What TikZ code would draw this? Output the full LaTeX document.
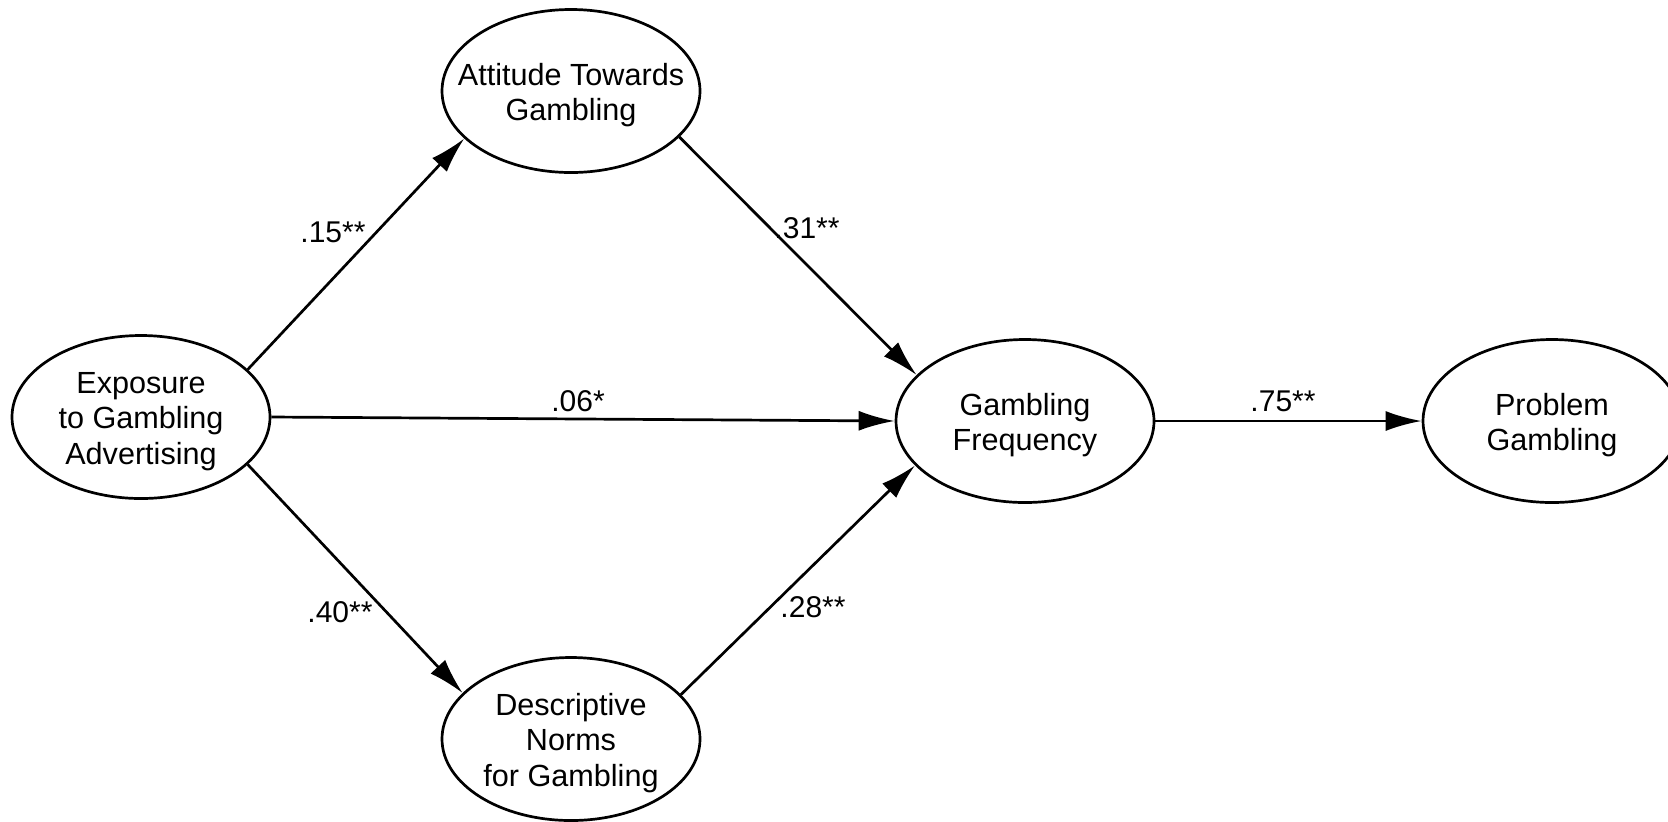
\documentclass[tikz,border=0pt]{standalone}
\usepackage{fontspec}
\setmainfont{Liberation Sans}
\usetikzlibrary{shapes.geometric,arrows.meta}
\newcommand{\toppad}{\rule{0pt}{15pt}}
\begin{document}
\begin{tikzpicture}[x=0.5pt,y=-0.5pt,
  latent/.style={ellipse,draw,line width=1.35pt,minimum width=129pt,minimum height=81.5pt,inner xsep=-40pt,inner ysep=-30pt,align=center,font=\fontsize{15.3pt}{17.6pt}\selectfont},
  path/.style={line width=1.35pt,-{Latex[length=18pt,width=10pt]}},
  coef/.style={font=\fontsize{15pt}{17.25pt}\selectfont,inner sep=0pt}]
\useasboundingbox (0,0) rectangle (1668,821);
\node[latent] (exp) at (141,417) {\toppad Exposure\\to Gambling\\Advertising};
\node[latent] (att) at (571,91) {\toppad Attitude Towards\\Gambling};
\node[latent] (desc) at (571,739) {\toppad Descriptive\\Norms\\for Gambling};
\node[latent] (gf) at (1025,421) {\toppad Gambling\\Frequency};
\node[latent] (prob) at (1552,421) {\toppad Problem\\Gambling};
\draw[path] (exp.24) -- (att.204);
\draw[path] (exp.-24) -- (desc.157);
\draw[path] (att.-23) -- (gf.157);
\draw[path] (desc.22) -- (gf.202);
\draw[path] (exp.east) -- (gf.west);
\draw[path] (gf.east) -- (prob.west);
\node[coef] (l15) at (333,232) {.15**};
\node[coef] (l31) at (807,228) {.31**};
\node[coef] (l06) at (578,401) {.06*};
\node[coef] (l40) at (340,612) {.40**};
\node[coef] (l28) at (813,607) {.28**};
\node[coef] (l75) at (1283,401) {.75**};
\end{tikzpicture}
\end{document}
